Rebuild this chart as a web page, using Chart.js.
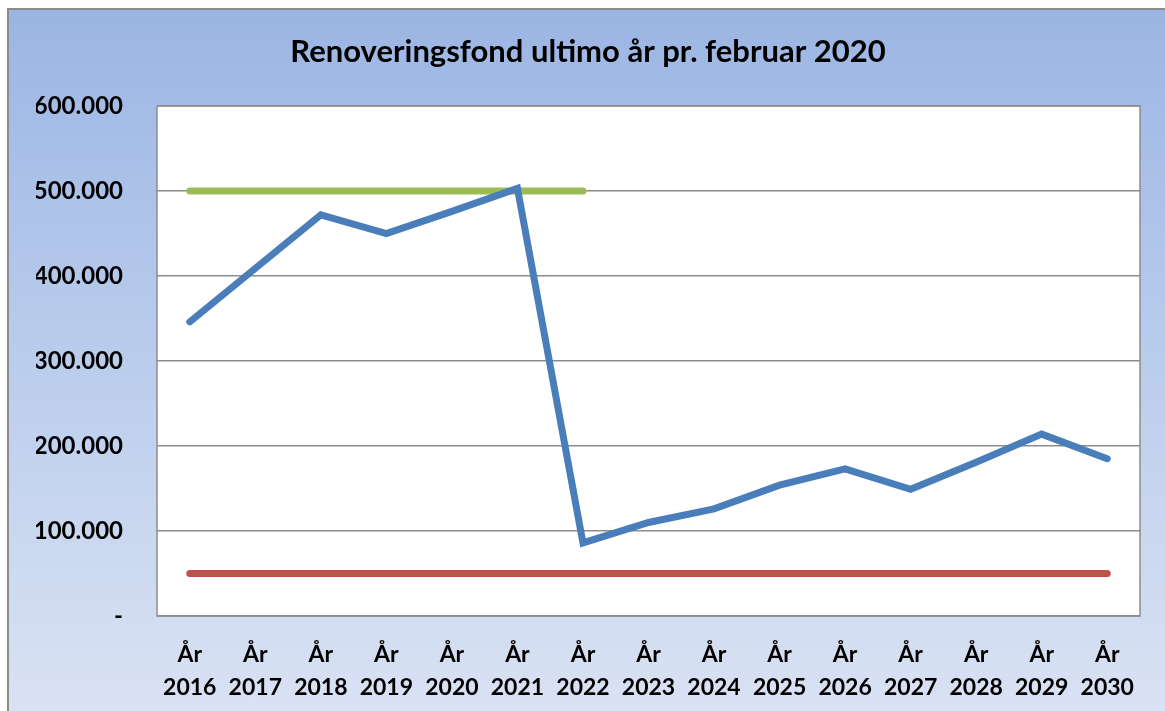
<!DOCTYPE html>
<html>
<head>
<meta charset="utf-8">
<script src="https://cdn.jsdelivr.net/npm/chart.js@4"></script>
<style>
  html, body { margin: 0; padding: 0; background: #ffffff; overflow: hidden; width: 1165px; height: 711px; }
  #frame {
    position: absolute; left: 7px; top: 8px; width: 1170px; height: 720px;
    border: 2px solid #8c8c8c; box-sizing: border-box;
    background: linear-gradient(to bottom, #9bb5e3 0%, #b8cbec 45%, #dbe3f3 100%);
  }
  #c { position: absolute; left: 0; top: 0; }
</style>
</head>
<body>
<div id="frame"></div>
<canvas id="c" width="1165" height="711"></canvas>
<script>
const titleText = 'Renoveringsfond ultimo år pr. februar 2020';
const categories = ['2016','2017','2018','2019','2020','2021','2022','2023','2024','2025','2026','2027','2028','2029','2030'];
const fondValues = [346000, 409000, 472000, 450000, 476000, 503000, 86000, 110000, 126000, 154000, 173000, 149000, 181000, 214000, 185000];
const upperValues = [500000, 500000, 500000, 500000, 500000, 500000, 500000, null, null, null, null, null, null, null, null];
const lowerValues = [50000, 50000, 50000, 50000, 50000, 50000, 50000, 50000, 50000, 50000, 50000, 50000, 50000, 50000, 50000];
const yTicks = [0, 100000, 200000, 300000, 400000, 500000, 600000];

const xLabels = categories.map(y => ['År', y]);

const plotBg = {
  id: 'plotBg',
  beforeDraw(chart) {
    const {ctx, chartArea: a} = chart;
    ctx.save();
    ctx.fillStyle = '#ffffff';
    ctx.fillRect(a.left, a.top, a.right - a.left, a.bottom - a.top);
    ctx.restore();
  },
  beforeDatasetsDraw(chart) {
    const {ctx, chartArea: a} = chart;
    ctx.save();
    ctx.strokeStyle = '#8c8c8c';
    ctx.lineWidth = 1.5;
    ctx.strokeRect(a.left, a.top, a.right - a.left, a.bottom - a.top);
    ctx.restore();
  }
};

const fmt = v => v === 0 ? '-' : v.toLocaleString('de-DE');

new Chart(document.getElementById('c'), {
  type: 'line',
  data: {
    labels: xLabels,
    datasets: [
      { label: 'Fond', data: fondValues, borderColor: '#4a7ebb', borderWidth: 7, pointRadius: 0, borderCapStyle: 'round', borderJoinStyle: 'miter', tension: 0, order: 0 },
      { label: 'Max', data: upperValues, borderColor: '#9bbb59', borderWidth: 7, pointRadius: 0, borderCapStyle: 'round', tension: 0, order: 1 },
      { label: 'Min', data: lowerValues, borderColor: '#c0504d', borderWidth: 7, pointRadius: 0, borderCapStyle: 'round', tension: 0, order: 2 }
    ]
  },
  options: {
    responsive: false,
    animation: false,
    layout: { padding: { left: 36, right: 25, top: 0, bottom: 0 } },
    plugins: {
      legend: { display: false },
      tooltip: { enabled: false },
      title: {
        display: true, text: titleText, color: '#000000',
        font: { family: 'Lato', size: 31, weight: 'bold', lineHeight: 1.2 },
        padding: { top: 33.4, bottom: 35.4 }
      }
    },
    scales: {
      x: {
        offset: true,
        grid: { display: false, drawTicks: false, tickLength: 0 },
        border: { display: false },
        ticks: { color: '#000000', font: { family: 'Lato', size: 23, weight: 'bold', lineHeight: 1.43 }, padding: 22, maxRotation: 0, autoSkip: false },
        afterFit(s) { s.height = 95; }
      },
      y: {
        min: 0, max: 600000,
        afterBuildTicks(s) { s.ticks = yTicks.map(v => ({ value: v })); },
        grid: { color: '#8c8c8c', lineWidth: 1.5, drawTicks: false, tickLength: 0 },
        border: { display: false },
        ticks: { color: '#000000', font: { family: 'Lato', size: 24, weight: 'bold' }, padding: 34, callback: v => fmt(v) },
        afterFit(s) { s.width = 121; }
      }
    }
  },
  plugins: [plotBg]
});
</script>
</body>
</html>
